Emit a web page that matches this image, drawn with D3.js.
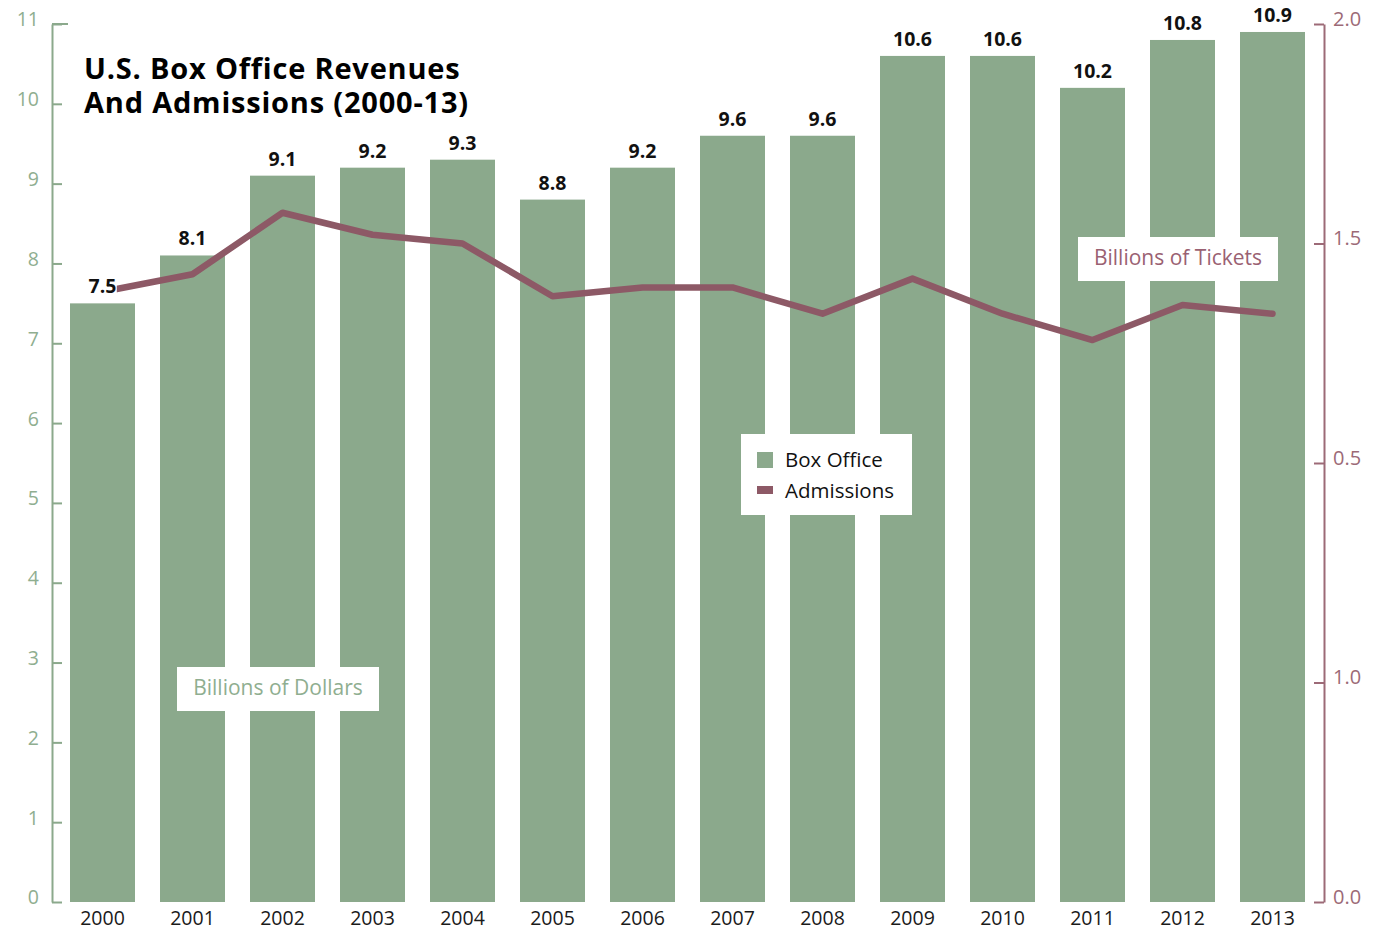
<!DOCTYPE html>
<html>
<head>
<meta charset="utf-8">
<script src="https://cdn.jsdelivr.net/npm/d3@7"></script>
<style>
  html, body { margin: 0; padding: 0; background: #fff; }
  svg { display: block; font-family: "Open Sans", "Noto Sans", sans-serif; }
</style>
</head>
<body>
<svg id="chart" width="1378" height="930"></svg>
<script>
// ---- data ----
const years = ["2000","2001","2002","2003","2004","2005","2006","2007","2008","2009","2010","2011","2012","2013"];
const boxOffice = [7.5, 8.1, 9.1, 9.2, 9.3, 8.8, 9.2, 9.6, 9.6, 10.6, 10.6, 10.2, 10.8, 10.9];
const admissions = [1.39, 1.43, 1.57, 1.52, 1.50, 1.38, 1.40, 1.40, 1.34, 1.42, 1.34, 1.28, 1.36, 1.34];
const leftTicks = [0,1,2,3,4,5,6,7,8,9,10,11];
const rightTickValues = [0, 0.5, 1, 1.5, 2];
const rightTickLabels = ["0.0", "1.0", "0.5", "1.5", "2.0"];
const titleLines = ["U.S. Box Office Revenues", "And Admissions (2000-13)"];
const seriesNames = ["Box Office", "Admissions"];

// ---- styles ----
const green = "#8ba98c";
const greenText = "#8fae90";
const maroon = "#8d5966";
const maroonAxis = "#9c6a77";

const svg = d3.select("#chart");

const x = d3.scaleBand().domain(years).range([57.5, 1317.5])
  .paddingInner(25/90).paddingOuter(12.5/90);
const yL = d3.scaleLinear().domain([0, 11]).range([902, 24]);
const yR = d3.scaleLinear().domain([0, 2]).range([902, 24]);

// bars
svg.append("g").selectAll("rect").data(years).join("rect")
  .attr("x", d => x(d))
  .attr("y", (d, i) => yL(boxOffice[i]))
  .attr("width", x.bandwidth())
  .attr("height", (d, i) => yL(0) - yL(boxOffice[i]))
  .attr("fill", green);

// value labels
svg.append("g").selectAll("text").data(years).join("text")
  .attr("x", d => x(d) + x.bandwidth() / 2)
  .attr("y", (d, i) => yL(boxOffice[i]) - 10)
  .attr("text-anchor", "middle")
  .attr("font-size", 19.5)
  .attr("font-weight", "bold")
  .attr("fill", "#111")
  .text((d, i) => boxOffice[i].toFixed(1));

// year labels
svg.append("g").selectAll("text").data(years).join("text")
  .attr("x", d => x(d) + x.bandwidth() / 2)
  .attr("y", 925)
  .attr("text-anchor", "middle")
  .attr("font-size", 19.5)
  .attr("fill", "#1a1a1a")
  .text(d => d);

// admissions line (starts just right of the first value label, as in the original)
svg.append("clipPath").attr("id", "lineClip")
  .append("rect")
  .attr("x", x(years[0]) + x.bandwidth() * 0.72)
  .attr("y", 0).attr("width", 1378).attr("height", 930);
const line = d3.line()
  .x((d, i) => x(years[i]) + x.bandwidth() / 2)
  .y(d => yR(d));
svg.append("path").datum(admissions)
  .attr("d", line)
  .attr("clip-path", "url(#lineClip)")
  .attr("fill", "none")
  .attr("stroke", maroon)
  .attr("stroke-width", 6.5)
  .attr("stroke-linejoin", "round")
  .attr("stroke-linecap", "round");

// left axis
const gL = svg.append("g").attr("transform", "translate(52,0)")
  .call(d3.axisLeft(yL).tickValues(leftTicks).tickSize(-10).tickSizeOuter(0).tickPadding(13).tickFormat(d3.format("d")));
gL.select(".domain").attr("stroke", green).attr("stroke-width", 2);
gL.selectAll(".tick line").attr("stroke", green).attr("stroke-width", 2);
gL.selectAll(".tick text").attr("fill", greenText).attr("font-size", 19.5)
  .attr("font-family", "'Open Sans', sans-serif").attr("dy", "0.1em");
gL.append("line").attr("x1", 0).attr("x2", 16).attr("y1", yL(11)).attr("y2", yL(11))
  .attr("stroke", green).attr("stroke-width", 2);

// right axis
const gR = svg.append("g").attr("transform", "translate(1324,0)")
  .call(d3.axisRight(yR).tickValues(rightTickValues).tickSize(-10).tickSizeOuter(0).tickPadding(9)
    .tickFormat((d, i) => rightTickLabels[i]));
gR.select(".domain").attr("stroke", maroonAxis).attr("stroke-width", 2);
gR.selectAll(".tick line").attr("stroke", maroonAxis).attr("stroke-width", 2);
gR.selectAll(".tick text").attr("fill", maroonAxis).attr("font-size", 20)
  .attr("font-family", "'Open Sans', sans-serif").attr("dy", "0.05em");

// unit boxes
function unitBox(bx, by, bw, bh, label, color) {
  svg.append("rect").attr("x", bx).attr("y", by).attr("width", bw).attr("height", bh).attr("fill", "#fff");
  svg.append("text").attr("x", bx + bw / 2).attr("y", by + 28).attr("text-anchor", "middle")
    .attr("font-size", 21).attr("fill", color).text(label);
}
unitBox(177, 667, 202, 44, "Billions of Dollars", greenText);
unitBox(1078, 237, 200, 44, "Billions of Tickets", "#9a6172");

// legend
const lg = svg.append("g").attr("transform", "translate(741,434)");
lg.append("rect").attr("width", 171).attr("height", 81).attr("fill", "#fff");
lg.append("rect").attr("x", 16).attr("y", 18).attr("width", 16).attr("height", 16).attr("fill", green);
lg.append("rect").attr("x", 16).attr("y", 52).attr("width", 16).attr("height", 8).attr("fill", maroon);
lg.selectAll("text.lab").data(seriesNames).join("text").attr("class", "lab")
  .attr("x", 44).attr("y", (d, i) => 33 + i * 31)
  .attr("font-size", 20.5).attr("fill", "#111").text(d => d);

// title
svg.append("g").selectAll("text").data(titleLines).join("text")
  .attr("x", 84).attr("y", (d, i) => 79 + i * 34)
  .attr("font-size", 29).attr("font-weight", "bold").attr("letter-spacing", 0.8).attr("fill", "#000")
  .text(d => d);
</script>
</body>
</html>
